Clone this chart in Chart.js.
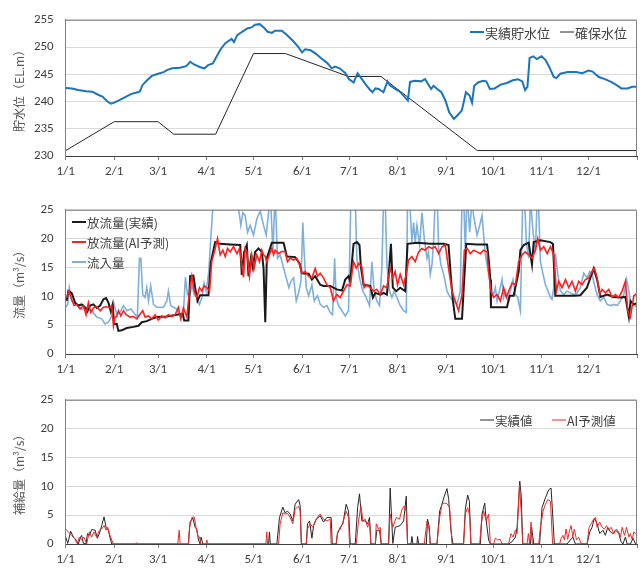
<!DOCTYPE html>
<html>
<head>
<meta charset="utf-8">
<script src="https://cdn.jsdelivr.net/npm/chart.js@4.4.0/dist/chart.umd.min.js"></script>
<style>
  body { margin: 0; background: #fff; width: 642px; height: 569px; overflow: hidden; position: relative; }
  canvas { position: absolute; left: 0; }
</style>
</head>
<body>
<canvas id="levelChart" width="642" height="190" style="top:0px"></canvas>
<canvas id="flowChart" width="642" height="190" style="top:190px"></canvas>
<canvas id="supplyChart" width="642" height="189" style="top:380px"></canvas>
<script>
// x = day of year (0 = 1/1)
const monthTicks = [0, 31, 59, 90, 120, 151, 181, 212, 243, 273, 304, 334, 365];
const monthLabels = ['1/1', '2/1', '3/1', '4/1', '5/1', '6/1', '7/1', '8/1', '9/1', '10/1', '11/1', '12/1', ''];

// 貯水位
const levelActual = [[0,242.5],[4,242.4],[8,242.1],[13,241.9],[17,241.8],[21,241.2],[23.5,240.9],[26.6,240.0],[29,239.6],[31,239.8],[34,240.2],[38,240.8],[42,241.4],[46,241.7],[47.5,241.9],[49,243.0],[52,243.9],[55,244.7],[59,245.1],[62.6,245.4],[65,245.8],[68,246.1],[73,246.2],[77,246.5],[79.6,247.3],[82,246.8],[86,246.3],[88.7,246.1],[91,246.7],[94,247.0],[96.5,248.3],[99,249.6],[102,250.7],[104,251.1],[106,251.5],[107.5,250.9],[109.6,252.2],[112.7,252.8],[116,253.4],[118.7,253.6],[121,254.1],[124,254.2],[126.5,253.6],[129,252.8],[131.8,252.6],[133.6,253.0],[135.7,253.0],[138,253.0],[141,252.3],[145,251.2],[148.7,250.0],[151,249.0],[153,249.6],[156.5,249.4],[159.7,248.8],[163,248.0],[167,247.1],[170,246.1],[172,246.4],[175,246.1],[178.7,245.2],[181,244.1],[184,243.5],[186.5,245.2],[189,244.2],[192,243.0],[194,242.3],[196,241.7],[197.8,242.4],[200,242.3],[203,241.7],[205.6,243.7],[207,243.0],[210,242.4],[214,241.7],[216.6,240.8],[218.6,240.2],[220,243.6],[223,243.8],[227,243.7],[229.6,244.1],[232,243.0],[233.5,242.3],[235,242.9],[237.4,242.3],[240,241.7],[242.6,240.2],[245,238.0],[248,236.8],[250,237.4],[253,238.3],[254,239.5],[255.7,241.7],[258,241.1],[259.6,239.8],[261,242.9],[263.5,243.5],[266.6,243.8],[268.7,243.7],[271,242.3],[274,242.4],[277.9,243.1],[281.8,243.4],[285.7,243.9],[289,244.1],[291.7,243.7],[293.5,242.1],[295,242.7],[296.4,248.0],[298.7,248.3],[301,247.8],[304,248.3],[306.6,247.6],[309,246.3],[311.8,244.5],[313.5,244.3],[316,245.1],[320.7,245.4],[326,245.4],[330,245.2],[334,245.7],[336.6,245.5],[340.6,244.5],[344.5,244.1],[348.5,243.6],[352,243.0],[355,242.4],[358.8,242.4],[362,242.7],[365,242.7]];
const levelSecured = [[0,231],[31,236.3],[59,236.3],[69,234],[95.8,234],[120,248.8],[140.4,248.8],[180.6,244.6],[201.4,244.6],[263,231],[365,231]];

// 流量
const outflowActual = [[0.6,9.2],[1.7,10.9],[3.8,10.6],[6,8.9],[8.1,8.4],[10.2,8.6],[12.4,8.1],[13.9,7.4],[15.6,8.4],[17.7,8.6],[19.8,8],[22,8.4],[24.1,9.5],[25.8,9.7],[27.3,8.9],[28.8,7.4],[30,8.6],[30.9,5.2],[32.6,5.2],[33.7,4],[35.8,4.1],[39,4.5],[43.3,4.7],[46.5,4.9],[48.6,5.5],[51.8,5.7],[55,6.1],[58.2,6.4],[64.6,6.5],[71,6.8],[74.8,7.0],[75.7,5.8],[78.4,5.8],[79.5,13.5],[81.6,13.6],[82.7,11.5],[84.2,9.2],[85.9,10.2],[89.1,10.2],[91.2,10.2],[92.7,15.9],[95.5,19.4],[98.7,19.1],[105,19],[111.5,18.9],[112.5,13.7],[114,17.7],[115.7,18.9],[116.8,13.5],[118.3,16.6],[119.6,14.9],[121,17.7],[123.2,18.3],[125.3,17.7],[126.4,14.9],[127.5,5.5],[128.5,16.6],[131.7,19.3],[139.2,19.3],[141.3,16.9],[146.6,16.8],[149.4,15.7],[150.9,14.0],[155.2,13.9],[157.3,12.9],[159.4,13.5],[162.6,12],[164.7,11.8],[169,11.8],[173.2,11.2],[176.5,11],[178.6,12.9],[180.7,13.5],[181.8,12.6],[183.9,19.1],[186,19.4],[187.7,18.9],[188.6,15.1],[190.3,12],[194.6,11.8],[196.3,9.8],[197.8,10.6],[201,10.3],[203.1,10.6],[205.2,10.3],[206.3,13.5],[207.8,19.1],[209,11.5],[211.2,10.9],[213.7,11.5],[216.9,10.9],[218.4,19.1],[224.4,19.3],[232.9,19.1],[241.5,19.1],[244.6,18.9],[246.3,12.6],[247.4,9.2],[248.9,6.1],[253.2,6.1],[254.2,10.9],[255.9,19.1],[262.8,19],[269.2,19],[270.2,16.6],[271.3,12.9],[271.7,8.1],[274.5,8.1],[281.9,8.1],[283.7,10.1],[286.2,10.1],[289.4,14.3],[290.5,18],[292.6,18.9],[295.8,19.3],[297.9,15.5],[299,19.4],[303.3,19.7],[309.6,19.4],[311.3,19.1],[312.8,10.1],[318.2,10.1],[324.6,10.1],[328.8,10.2],[333,11.5],[335.6,13.5],[337.3,14.8],[339.5,12.9],[341.6,9.9],[345.9,10.3],[350.2,9.9],[354.4,9.8],[357.6,9.9],[359.8,6.4],[360.9,9.2],[363,8.6],[365,8.8]];
const outflowAI = [[0.6,9.8],[2.1,10.9],[3.8,9.5],[5.3,8.4],[7,8.6],[9.2,7.8],[11.3,8.4],[13,6.8],[14.5,8.9],[16,7.2],[17.7,8],[19.8,8.2],[22,7.5],[24.1,8.1],[26.2,8.2],[28.3,8],[29.4,8.4],[30.5,4.9],[31.5,6.4],[32.6,6.5],[33.7,7.5],[35.2,6.6],[36.9,7.5],[38.6,6.8],[41.1,6.4],[43.3,6.5],[45.4,6.1],[47.5,6.9],[49.2,7.5],[50.7,6.4],[52.9,6.6],[55,6.1],[57.1,6.8],[59.2,5.9],[61.4,6.6],[63.5,6.3],[65.6,6.8],[67.8,6.5],[69.9,6.8],[72,8.1],[73.5,6.1],[75.2,8],[77.4,6.4],[79.1,10.9],[80.6,13.5],[82.1,10.9],[83.8,9.8],[85.5,11.5],[87,10.9],[88.4,11.8],[90.2,11.5],[91.9,10.9],[93.3,16],[95.5,18.3],[97,20],[98.7,17.2],[100.4,18],[101.9,16.9],[103.4,18.3],[105.1,17.7],[107.2,18.6],[109.4,17.4],[111,18.3],[112.5,15.5],[113.6,13.3],[114.7,18.3],[115.7,17.7],[117.4,13.5],[118.9,17.2],[120.4,14.9],[122.1,17.2],[123.8,16],[125.3,18],[126.4,17.2],[127.5,16.9],[128.5,16],[130.2,17.2],[131.7,18.3],[132.8,17.2],[133.8,18],[136,17.4],[138.1,17.8],[140.2,17.7],[141.7,16],[143.4,16.6],[145.6,16.3],[147.7,16.6],[149.8,15.2],[150.9,14],[153,14.3],[155.2,13.5],[157.3,13.2],[159.4,14.8],[160.9,13.5],[162.6,14.0],[164.7,13.2],[166.9,12],[169,11.5],[171.1,9.2],[173.2,10.3],[175.4,9.8],[177.5,10.9],[179.7,12],[181.8,11.8],[183.9,16],[185.6,14.9],[187.1,15.7],[189.2,15.1],[190.7,11.5],[192.4,12],[194.6,11.5],[196.7,10.9],[198.8,11.2],[201,10.3],[203.1,11.8],[205.2,11.5],[207.3,14.9],[209,13.2],[210.5,14.3],[212,12],[213.7,13.8],[215.9,12],[217.6,13.8],[219.1,16.3],[221.2,16.9],[223.3,16],[225.5,17.7],[227.6,18.3],[229.7,18],[231.9,18.6],[234,18.3],[236.1,18.6],[238.3,17.4],[240.4,18.6],[242.5,18.9],[244.6,14.9],[246.8,10.9],[248.9,9.2],[251,7.5],[253.2,10.3],[254.7,18],[256.4,18.3],[258.5,17.4],[260.6,18],[262.8,17.7],[264.9,17.4],[267,18],[269.2,17.7],[270.2,14.3],[271.7,10.9],[273.4,9.8],[275.6,10.3],[277.7,9.2],[279.8,11.5],[281.5,9.8],[283,10.9],[285.2,12.3],[287.3,12],[289.4,16],[291.6,17.2],[293.7,17.7],[295.8,17.2],[298,16.6],[300.1,18],[301.6,20],[303.3,18],[305.4,18.6],[307.6,17.4],[309.7,18.6],[311.8,17.2],[313.5,10.9],[315,12.6],[317.1,11.5],[319.3,12.9],[321.4,11.5],[323.5,12.6],[325.6,10.9],[327.8,12.6],[329.9,12],[332,12.9],[334.2,13.2],[336.3,14.3],[337.8,14.9],[339.5,13.2],[341.2,10.3],[342.7,11.2],[344.8,10.6],[347,11.2],[349.1,9.8],[351.2,10.3],[353.3,9.8],[355.5,10.9],[357.6,12.6],[359.1,7.5],[360.8,6.4],[363,10.1],[365,10.5]];
const inflow = [[0,8.1],[1.3,8.6],[2.3,11.5],[3.8,9.2],[5.3,8.9],[7.5,8.4],[10.2,7.8],[13.4,8],[16.6,7.5],[19.8,6.4],[23,6.1],[25.1,5.2],[27.3,5.5],[29.4,6.6],[30.9,8.6],[32.6,6.9],[34.7,7.2],[36.9,8.4],[39,7.5],[41.6,7.8],[43.3,7.2],[45.8,6.4],[47.1,16.6],[48,16.6],[49.2,10.3],[50.7,9.8],[51.8,11.5],[52.9,9.2],[54.3,11.8],[56.1,8.6],[58.2,8.1],[60.3,8.1],[62.4,8.1],[64.6,9.2],[65.6,10.9],[67.1,8.4],[68.8,8.1],[71,7.8],[73.1,6.6],[74.2,6.4],[75.2,7.2],[76.5,13.3],[77.8,10.3],[79.5,10.3],[80.6,12],[82.1,10.3],[83.8,9.8],[85.5,8.6],[87,9.8],[88.4,12.3],[89.7,10.9],[91.4,14.3],[92.7,20],[94.4,27],[97,32],[101,30],[105,33],[109,28],[111.9,22.3],[113.2,24.5],[114.7,24],[116.2,21.1],[117.9,22.3],[120,20.6],[122.1,23.4],[124.3,24.8],[126.4,22.3],[128.1,20.6],[129.6,24.5],[130.7,28],[132.4,17.7],[133.8,28],[135.3,16.6],[137,17.2],[139.2,14.9],[140.9,13.2],[142.6,11.5],[143.9,12.6],[145.6,13.2],[147.3,9.2],[148.8,10.6],[150.3,12.6],[151.5,22.8],[152.4,17.2],[153.7,11.5],[155.2,10.1],[157.3,12],[158.8,9.2],[160.9,10.1],[162.6,8.6],[164.7,8.1],[166.9,8.4],[169,7.2],[170.5,6.8],[171.8,16.6],[172.8,9.8],[174.3,8.4],[176.5,7.5],[178.6,6.6],[180.7,7.5],[182.2,27],[183.9,25.5],[185,27],[186,16.6],[187.7,13.2],[189.9,10.9],[192,9.8],[194.1,8.4],[195.6,16],[197.1,10.9],[198.8,9.2],[200.5,8.4],[202,14.9],[203.1,27],[204.2,26],[205.2,15.5],[206.9,10.9],[208.4,9.8],[209.9,10.9],[211.6,9.8],[213.7,8.4],[215.9,7.5],[217.6,7.2],[218.4,27],[219.7,27],[221.2,19.4],[222.3,22.8],[223.3,19.4],[224.4,22.3],[226.1,18.9],[227.6,24.5],[229.1,20],[230.8,16.6],[231.8,17.7],[232.9,13.8],[234,15.5],[235,19.4],[236.1,27],[237.2,28],[238.3,18.3],[239.7,15.5],[241.5,13.8],[243.6,10.9],[245.7,9.8],[247.9,9.2],[250,8.6],[252.1,10.9],[253.2,27],[254.2,28],[255.3,17.7],[256.4,28],[258.1,21.1],[259.6,27],[260.6,24],[261.7,22.3],[262.8,20.6],[264.5,22.3],[266,24],[267,20.6],[268.1,17.2],[269.2,15.5],[270.2,13.8],[271.3,12.3],[272.4,10.9],[273.4,10.3],[274.5,11.5],[275.6,9.2],[277.1,10.9],[278.8,12.9],[279.8,9.8],[280.9,10.9],[282.4,9.5],[284.1,10.9],[285.8,12.9],[287.3,10.3],[288.8,9.8],[290.5,7.5],[292,27],[293.1,27],[294.3,19.4],[295.8,16.6],[296.9,27],[298.6,21.1],[300.1,17.7],[301.2,27],[302.2,25.1],[303.3,16],[305,13.8],[306.5,12],[308.2,10.9],[309.7,9.8],[310.7,9.5],[311.8,11.5],[312.9,17.4],[314.4,13.8],[316.1,10.9],[318.2,10.3],[320.3,10.9],[322.4,10.6],[324.6,10.3],[326.7,10.6],[328.8,11.5],[331,14],[333.1,13.2],[334.8,14.3],[336.3,13.8],[337.8,12],[339.5,10.3],[341.6,9.2],[343.8,9.8],[345.9,8.6],[348,8.4],[350.2,8.6],[352.3,8.4],[354.4,9.2],[356.6,10.3],[358.3,12.9],[359.8,10.9],[360.8,9.2],[363,8.4],[365,8.2]];

// 補給量
const supplyActual = [[0,1.2],[1.3,0.1],[3.2,2.2],[4.9,1.2],[6.6,0.7],[8.1,0],[9.2,1],[10.2,1.5],[11.3,0.1],[13,0],[13.9,1.8],[15.1,1.5],[16.6,2.5],[18.8,2.4],[20.2,1],[21.5,1.8],[23,3.2],[24.5,4.7],[25.8,2.9],[27.3,2.4],[28.3,1.1],[29.4,0],[78.4,0],[79.5,3.8],[81.2,4.5],[82.7,2.9],[83.8,2.5],[84.8,0.7],[85.9,0],[86.5,1.2],[87.6,0],[129.6,0],[130.2,2.1],[130.7,0],[134.9,0],[136.6,4.6],[138.7,6.4],[140.2,5.4],[141.7,5.7],[143.4,5.2],[145.1,4],[146.6,6.9],[148.8,7.7],[149.8,6.7],[150.5,0],[153.7,0],[154.5,3.5],[155.8,4],[157.3,1],[158.4,3.2],[160.1,4.3],[162.6,4.9],[164.7,3.8],[166.9,4.6],[169.6,4.6],[170.3,0],[172.8,0],[173.7,1.8],[175.4,2.9],[177.1,3.5],[179.2,6.9],[180.7,5.7],[181.8,0],[185,0],[186.5,6.3],[187.7,8.7],[189.2,4],[191.4,4],[192.9,3.5],[194.1,4.6],[195,0],[197.8,0],[198.8,2.4],[200.5,2.4],[201.6,0],[206.3,0],[207.3,9.7],[209,0.1],[210.5,2.9],[213.7,3.2],[215.9,4],[217.6,8.3],[218.4,0],[220.6,0],[221.2,1.3],[221.8,0],[224.4,0],[224.8,1.3],[225.5,0],[230.4,0],[231.2,4.3],[232.3,2.9],[232.9,0],[237.2,0],[238.9,5.7],[240.4,6.9],[241.9,8.3],[243.6,9.6],[244.7,7.7],[246.1,2.4],[247.4,0],[254.2,0],[255.3,6],[256.8,8.5],[257.9,7.4],[258.9,0],[264.9,0],[266,5.2],[267.7,7.1],[268.7,4],[270.2,0.7],[271.3,0],[282.9,0],[285.2,0.4],[287.3,1.2],[288.4,2.9],[290.1,10.9],[291,8.5],[292,0],[296.9,0],[297.7,2.9],[299,0],[302.8,0],[304.3,6.3],[306.5,8],[308.6,9.4],[310.1,9.7],[311.1,5.2],[312.2,0],[320.3,0],[322.4,0.7],[324.1,1.2],[325.6,0],[333.1,0],[334.8,2.1],[336.3,2.9],[337.8,4.5],[339.5,3.5],[341.2,1.8],[343.3,2.4],[344.8,1.5],[346.3,2.9],[348,2.1],[349.7,1.8],[351.2,2.4],[353.3,1.9],[354.8,0.4],[356,0],[357.6,1.2],[358.7,0],[360.8,0],[362.5,1],[364.1,0],[365,0]];
const supplyAI = [[0,2.6],[1.7,2.1],[3.8,1.5],[6,0.8],[7.5,0],[8.7,1.2],[10.2,0.7],[11.7,1.2],[13.4,0],[15.1,2.1],[16.6,1.2],[18.1,2.1],[19.8,1.2],[21.5,2.4],[23,2.6],[24.5,3.2],[25.8,2.4],[26.9,2.9],[27.9,1.8],[29.4,0.7],[30.5,0],[44.3,0],[45.4,0.2],[46.5,0],[71.6,0],[72.5,2.4],[73.1,0],[78.4,0],[79.1,2.9],[80.6,4.6],[82.1,4.7],[83.3,2.9],[84.4,1.5],[85.5,1.2],[86.3,0],[89.5,0],[90.2,0.7],[90.6,0],[127.9,0],[128.5,2.1],[128.9,0],[136,0],[137,3.5],[138.7,5.4],[140.2,5.2],[141.7,5.3],[143.4,4.6],[145.1,3.5],[146.6,6],[148.8,6.6],[149.8,5.7],[150.7,0],[153.7,0],[154.5,2.6],[156.2,3.5],[157.9,2.9],[159.4,4],[161.5,4.9],[162.6,5.2],[164.7,4.3],[166.9,4],[169,4.3],[169.6,0],[172.8,0],[173.7,2.1],[175.4,2.6],[177.1,3.8],[179.2,5.7],[180.7,4.6],[181.3,0],[185.6,0],[187.1,4],[188.6,6.6],[189.9,4],[191.4,4.3],[192.9,2.9],[194.1,4],[195,0],[197.8,0],[198.4,3.5],[199.9,2.6],[201,2.9],[201.6,0],[206.3,0],[207.3,5.2],[209,2.9],[211.2,4.6],[213.3,4.3],[214.8,6],[216.3,6.6],[217.6,5.7],[218.4,0],[229.1,0],[230.8,4],[232.1,2.6],[232.9,0],[237.2,0],[238.9,4.6],[240.4,6.9],[241.9,7.1],[243.6,7],[245.3,6.3],[246.8,0],[254.2,0],[255.3,5.2],[256.8,6.3],[258.1,4.9],[258.9,0],[264.5,0],[265.5,3.5],[267,5.7],[268.7,4],[270.2,5.2],[271.3,0],[273.4,0],[274.5,1],[276,0.7],[277.7,0.8],[278.8,0],[282.9,0],[284.5,1.8],[285.8,1.2],[287.3,2.4],[288.4,1.8],[289.9,10.2],[291,5.7],[292,0],[294.7,0],[295.6,1.8],[296.4,0],[297.3,3.8],[298.1,0],[302.2,0],[303.3,2.9],[305,5.7],[306.5,6.9],[308,7.7],[309.7,7.4],[311.1,0],[315.6,0],[316.5,1],[317.7,1.5],[318.6,0.7],[319.7,2.6],[320.7,0.8],[322,2.4],[322.9,3.2],[324,1.2],[325,2.6],[326.3,0.7],[327.8,1.2],[329.3,0],[333.1,0],[334.4,2.9],[335.7,3.5],[337,4.2],[338.5,4.6],[339.5,2.9],[341.2,3.8],[342.7,2.9],[344.2,2.6],[345.5,3.2],[347,2.4],[348.5,2.9],[350.2,1.8],[351.9,2.6],[353.3,2.1],[354.4,1.2],[355.5,2.9],[357,1.5],[358.3,2.9],[359.8,1.2],[360.8,1.8],[361.9,0.8],[363,2.1],[364.1,1.8],[365,1.8]];

const FONT = "Carlito, Calibri, Lato, 'Noto Sans CJK JP', sans-serif";
const JP = "'Noto Sans CJK JP', sans-serif";

const toXY = (arr) => arr.map(([x, y]) => ({ x, y }));

function xAxis(height) {
  return {
    type: 'linear',
    min: 0,
    max: 365,
    afterBuildTicks: (s) => { s.ticks = monthTicks.map((v) => ({ value: v })); },
    afterFit: (s) => { s.height = height; },
    ticks: {
      autoSkip: false,
      maxRotation: 0,
      padding: 4,
      color: '#404040',
      font: { family: FONT, size: 13 },
      callback: (v, i) => monthLabels[i],
    },
    grid: { drawOnChartArea: false, tickLength: 4, color: '#808080' },
    border: { color: '#404040' },
  };
}

function yAxis(min, max, title) {
  return {
    min: min,
    max: max,
    afterFit: (s) => { s.width = 65.7; },
    ticks: { stepSize: 5, padding: 12, color: '#404040', font: { family: FONT, size: 13 } },
    grid: { color: '#d9d9d9', drawTicks: false },
    border: { color: '#808080' },
    title: { display: true, text: title, color: '#595959', font: { family: JP, size: 12 }, padding: { top: 12, bottom: 0 } },
  };
}

// box round the plot area + legend drawn inside it
const frameAndLegend = {
  id: 'frameAndLegend',
  afterDraw(chart, args, opts) {
    const ctx = chart.ctx;
    const a = chart.chartArea;
    ctx.save();
    ctx.strokeStyle = '#808080';
    ctx.lineWidth = 1;
    ctx.beginPath();
    ctx.moveTo(a.left, a.top + 0.5);
    ctx.lineTo(a.right - 0.5, a.top + 0.5);
    ctx.lineTo(a.right - 0.5, a.bottom);
    ctx.stroke();

    ctx.font = opts.fontSize + 'px ' + JP;
    ctx.textBaseline = 'middle';
    opts.items.forEach((it) => {
      const ds = chart.data.datasets[it.ds];
      ctx.strokeStyle = ds.borderColor;
      ctx.lineWidth = opts.lineWidth || ds.borderWidth;
      ctx.beginPath();
      ctx.moveTo(it.x, it.y);
      ctx.lineTo(it.x + opts.swatch, it.y);
      ctx.stroke();
      ctx.fillStyle = '#404040';
      ctx.fillText(ds.label, it.x + opts.swatch + 1, it.y + 1);
    });
    ctx.restore();
  },
};

function baseOptions(padTop, xHeight, yMin, yMax, title, legend) {
  return {
    responsive: false,
    animation: false,
    events: [],
    layout: { padding: { top: padTop, right: 5, left: 0, bottom: 0 } },
    elements: { point: { radius: 0 }, line: { tension: 0 } },
    plugins: { legend: { display: false }, tooltip: { enabled: false }, frameAndLegend: legend },
    scales: { x: xAxis(xHeight), y: yAxis(yMin, yMax, title) },
  };
}

new Chart(document.getElementById('levelChart'), {
  type: 'line',
  data: {
    datasets: [
      { label: '実績貯水位', data: toXY(levelActual), borderColor: '#1b75bc', borderWidth: 2, order: 0 },
      { label: '確保水位', data: toXY(levelSecured), borderColor: '#262626', borderWidth: 1, order: 1 },
    ],
  },
  options: baseOptions(15.7, 34, 230, 255, '貯水位（EL.m）', {
    fontSize: 13, swatch: 14,
    items: [{ ds: 0, x: 470, y: 32 }, { ds: 1, x: 560, y: 32 }],
  }),
  plugins: [frameAndLegend],
});

new Chart(document.getElementById('flowChart'), {
  type: 'line',
  data: {
    datasets: [
      { label: '放流量(実績)', data: toXY(outflowActual), borderColor: '#1a1a1a', borderWidth: 2, order: 1 },
      { label: '放流量(AI予測)', data: toXY(outflowAI), borderColor: '#ff1f1f', borderWidth: 1.6, order: 0 },
      { label: '流入量', data: toXY(inflow), borderColor: '#7eb0dc', borderWidth: 1.6, order: 2, clip: 0 },
    ],
  },
  options: baseOptions(17, 26, 0, 25, '流量（m³/s）', {
    fontSize: 12.5, swatch: 14, lineWidth: 2,
    items: [{ ds: 0, x: 72, y: 32 }, { ds: 1, x: 72, y: 52 }, { ds: 2, x: 72, y: 72 }],
  }),
  plugins: [frameAndLegend],
});

new Chart(document.getElementById('supplyChart'), {
  type: 'line',
  data: {
    datasets: [
      { label: '実績値', data: toXY(supplyActual), borderColor: '#262626', borderWidth: 1, order: 1 },
      { label: 'AI予測値', data: toXY(supplyAI), borderColor: '#ee2a2a', borderWidth: 1, order: 0 },
    ],
  },
  options: baseOptions(15.7, 25, 0, 25, '補給量（m³/s）', {
    fontSize: 12.5, swatch: 14,
    items: [{ ds: 0, x: 480, y: 40 }, { ds: 1, x: 552, y: 40 }],
  }),
  plugins: [frameAndLegend],
});
</script>
</body>
</html>
